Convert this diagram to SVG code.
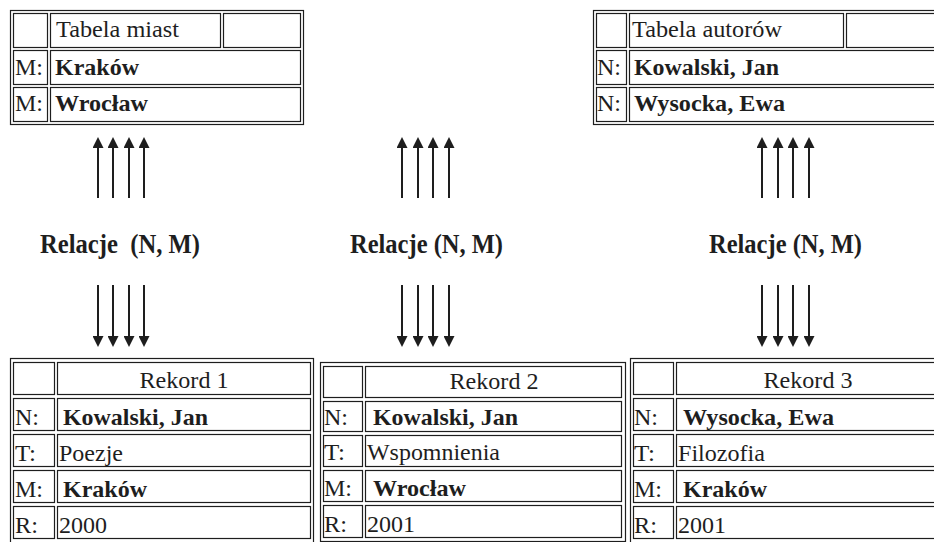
<svg xmlns="http://www.w3.org/2000/svg" width="934" height="542" viewBox="0 0 934 542">
<style>
.b{fill:none;stroke:#1e1e1e;stroke-width:1.2}
.t{font-family:"Liberation Serif","Times New Roman",serif;font-size:23px;fill:#1e1e1e}
.bd{font-weight:bold}
.rel{font-family:"Liberation Serif","Times New Roman",serif;font-size:27px;font-weight:bold;fill:#1e1e1e}
.m{text-anchor:middle}
.a{stroke:#1e1e1e;stroke-width:2;fill:none;marker-end:url(#ah)}
</style>
<defs>
<marker id="ah" markerUnits="userSpaceOnUse" markerWidth="11" markerHeight="11" refX="0" refY="5.5" orient="auto" viewBox="0 0 11 11">
<path d="M0,0 L11,5.5 L0,11 z" fill="#1e1e1e"/>
</marker>
</defs>
<rect width="934" height="542" fill="#fff"/>

<g id="tabela-miast">
<rect class="b" x="10.5" y="10.5" width="293" height="114"/>
<rect class="b" x="13.5" y="13.5" width="34" height="34"/>
<rect class="b" x="50.5" y="13.5" width="170" height="34"/>
<rect class="b" x="223.5" y="13.5" width="77" height="34"/>
<rect class="b" x="13.5" y="50.5" width="34" height="34"/>
<rect class="b" x="50.5" y="50.5" width="250" height="34"/>
<rect class="b" x="13.5" y="87.5" width="34" height="34"/>
<rect class="b" x="50.5" y="87.5" width="250" height="34"/>
<text class="t" x="56" y="37" textLength="123" lengthAdjust="spacingAndGlyphs">Tabela miast</text>
<text class="t" x="15" y="75" textLength="28" lengthAdjust="spacingAndGlyphs">M:</text>
<text class="t bd" x="55" y="75" textLength="84" lengthAdjust="spacingAndGlyphs">Kraków</text>
<text class="t" x="15" y="111" textLength="28" lengthAdjust="spacingAndGlyphs">M:</text>
<text class="t bd" x="55" y="111" textLength="93" lengthAdjust="spacingAndGlyphs">Wrocław</text>
</g>

<g id="tabela-autorow">
<rect class="b" x="593.5" y="10.5" width="350" height="114"/>
<rect class="b" x="596.5" y="13.5" width="30" height="34"/>
<rect class="b" x="629.5" y="13.5" width="214" height="34"/>
<rect class="b" x="846.5" y="13.5" width="100" height="34"/>
<rect class="b" x="596.5" y="50.5" width="30" height="34"/>
<rect class="b" x="629.5" y="50.5" width="320" height="34"/>
<rect class="b" x="596.5" y="87.5" width="30" height="34"/>
<rect class="b" x="629.5" y="87.5" width="320" height="34"/>
<text class="t" x="632" y="37" textLength="150" lengthAdjust="spacingAndGlyphs">Tabela autorów</text>
<text class="t" x="597" y="75" textLength="24" lengthAdjust="spacingAndGlyphs">N:</text>
<text class="t bd" x="634" y="75" textLength="145" lengthAdjust="spacingAndGlyphs">Kowalski, Jan</text>
<text class="t" x="597" y="111" textLength="24" lengthAdjust="spacingAndGlyphs">N:</text>
<text class="t bd" x="634" y="111" textLength="151" lengthAdjust="spacingAndGlyphs">Wysocka, Ewa</text>
</g>

<g id="connectors">
<line class="a" x1="98" y1="198" x2="98" y2="148"/>
<line class="a" x1="113" y1="198" x2="113" y2="148"/>
<line class="a" x1="129" y1="198" x2="129" y2="148"/>
<line class="a" x1="144" y1="198" x2="144" y2="148"/>
<line class="a" x1="402" y1="198" x2="402" y2="148"/>
<line class="a" x1="418" y1="198" x2="418" y2="148"/>
<line class="a" x1="433" y1="198" x2="433" y2="148"/>
<line class="a" x1="449" y1="198" x2="449" y2="148"/>
<line class="a" x1="762" y1="198" x2="762" y2="148"/>
<line class="a" x1="778" y1="198" x2="778" y2="148"/>
<line class="a" x1="793" y1="198" x2="793" y2="148"/>
<line class="a" x1="809" y1="198" x2="809" y2="148"/>
<line class="a" x1="98" y1="285" x2="98" y2="336"/>
<line class="a" x1="113" y1="285" x2="113" y2="336"/>
<line class="a" x1="129" y1="285" x2="129" y2="336"/>
<line class="a" x1="144" y1="285" x2="144" y2="336"/>
<line class="a" x1="402" y1="285" x2="402" y2="336"/>
<line class="a" x1="418" y1="285" x2="418" y2="336"/>
<line class="a" x1="433" y1="285" x2="433" y2="336"/>
<line class="a" x1="449" y1="285" x2="449" y2="336"/>
<line class="a" x1="762" y1="285" x2="762" y2="336"/>
<line class="a" x1="778" y1="285" x2="778" y2="336"/>
<line class="a" x1="793" y1="285" x2="793" y2="336"/>
<line class="a" x1="809" y1="285" x2="809" y2="336"/>
</g>

<g id="relacje-1"><text class="rel" x="40" y="253" textLength="160" lengthAdjust="spacingAndGlyphs">Relacje&#160; (N, M)</text></g>
<g id="relacje-2"><text class="rel" x="350" y="253" textLength="153" lengthAdjust="spacingAndGlyphs">Relacje (N, M)</text></g>
<g id="relacje-3"><text class="rel" x="709" y="253" textLength="153" lengthAdjust="spacingAndGlyphs">Relacje (N, M)</text></g>

<g id="rekord-1">
<rect class="b" x="10.5" y="358.5" width="303" height="186"/>
<rect class="b" x="13.5" y="362.5" width="41" height="32"/>
<rect class="b" x="57.5" y="362.5" width="253" height="32"/>
<rect class="b" x="13.5" y="398.5" width="41" height="32"/>
<rect class="b" x="57.5" y="398.5" width="253" height="32"/>
<rect class="b" x="13.5" y="434.5" width="41" height="32"/>
<rect class="b" x="57.5" y="434.5" width="253" height="32"/>
<rect class="b" x="13.5" y="470.5" width="41" height="32"/>
<rect class="b" x="57.5" y="470.5" width="253" height="32"/>
<rect class="b" x="13.5" y="506.5" width="41" height="32"/>
<rect class="b" x="57.5" y="506.5" width="253" height="32"/>
<text class="t m" x="184" y="388" textLength="89" lengthAdjust="spacingAndGlyphs">Rekord 1</text>
<text class="t" x="15" y="425" textLength="24" lengthAdjust="spacingAndGlyphs">N:</text>
<text class="t bd" x="63" y="425" textLength="145" lengthAdjust="spacingAndGlyphs">Kowalski, Jan</text>
<text class="t" x="15" y="461" textLength="21" lengthAdjust="spacingAndGlyphs">T:</text>
<text class="t" x="59" y="461" textLength="64" lengthAdjust="spacingAndGlyphs">Poezje</text>
<text class="t" x="15" y="497" textLength="28" lengthAdjust="spacingAndGlyphs">M:</text>
<text class="t bd" x="63" y="497" textLength="84" lengthAdjust="spacingAndGlyphs">Kraków</text>
<text class="t" x="15" y="533" textLength="23" lengthAdjust="spacingAndGlyphs">R:</text>
<text class="t" x="59" y="533" textLength="48" lengthAdjust="spacingAndGlyphs">2000</text>
</g>

<g id="rekord-2">
<rect class="b" x="320.5" y="362.5" width="305" height="179"/>
<rect class="b" x="323.5" y="366.5" width="39" height="31"/>
<rect class="b" x="365.5" y="366.5" width="256" height="31"/>
<rect class="b" x="323.5" y="401.5" width="39" height="30"/>
<rect class="b" x="365.5" y="401.5" width="256" height="30"/>
<rect class="b" x="323.5" y="435.5" width="39" height="31"/>
<rect class="b" x="365.5" y="435.5" width="256" height="31"/>
<rect class="b" x="323.5" y="470.5" width="39" height="31"/>
<rect class="b" x="365.5" y="470.5" width="256" height="31"/>
<rect class="b" x="323.5" y="505.5" width="39" height="32"/>
<rect class="b" x="365.5" y="505.5" width="256" height="32"/>
<text class="t m" x="494" y="389" textLength="89" lengthAdjust="spacingAndGlyphs">Rekord 2</text>
<text class="t" x="324" y="425" textLength="24" lengthAdjust="spacingAndGlyphs">N:</text>
<text class="t bd" x="373" y="425" textLength="145" lengthAdjust="spacingAndGlyphs">Kowalski, Jan</text>
<text class="t" x="324" y="460" textLength="21" lengthAdjust="spacingAndGlyphs">T:</text>
<text class="t" x="367" y="460" textLength="133" lengthAdjust="spacingAndGlyphs">Wspomnienia</text>
<text class="t" x="324" y="496" textLength="28" lengthAdjust="spacingAndGlyphs">M:</text>
<text class="t bd" x="373" y="496" textLength="93" lengthAdjust="spacingAndGlyphs">Wrocław</text>
<text class="t" x="324" y="532" textLength="23" lengthAdjust="spacingAndGlyphs">R:</text>
<text class="t" x="367" y="532" textLength="48" lengthAdjust="spacingAndGlyphs">2001</text>
</g>

<g id="rekord-3">
<rect class="b" x="630.5" y="358.5" width="312" height="186"/>
<rect class="b" x="633.5" y="362.5" width="40" height="32"/>
<rect class="b" x="676.5" y="362.5" width="262" height="32"/>
<rect class="b" x="633.5" y="398.5" width="40" height="32"/>
<rect class="b" x="676.5" y="398.5" width="262" height="32"/>
<rect class="b" x="633.5" y="434.5" width="40" height="32"/>
<rect class="b" x="676.5" y="434.5" width="262" height="32"/>
<rect class="b" x="633.5" y="470.5" width="40" height="32"/>
<rect class="b" x="676.5" y="470.5" width="262" height="32"/>
<rect class="b" x="633.5" y="506.5" width="40" height="32"/>
<rect class="b" x="676.5" y="506.5" width="262" height="32"/>
<text class="t m" x="808" y="388" textLength="89" lengthAdjust="spacingAndGlyphs">Rekord 3</text>
<text class="t" x="634" y="425" textLength="24" lengthAdjust="spacingAndGlyphs">N:</text>
<text class="t bd" x="683" y="425" textLength="151" lengthAdjust="spacingAndGlyphs">Wysocka, Ewa</text>
<text class="t" x="634" y="461" textLength="21" lengthAdjust="spacingAndGlyphs">T:</text>
<text class="t" x="678" y="461" textLength="87" lengthAdjust="spacingAndGlyphs">Filozofia</text>
<text class="t" x="634" y="497" textLength="28" lengthAdjust="spacingAndGlyphs">M:</text>
<text class="t bd" x="683" y="497" textLength="84" lengthAdjust="spacingAndGlyphs">Kraków</text>
<text class="t" x="634" y="533" textLength="23" lengthAdjust="spacingAndGlyphs">R:</text>
<text class="t" x="678" y="533" textLength="48" lengthAdjust="spacingAndGlyphs">2001</text>
</g>
</svg>
